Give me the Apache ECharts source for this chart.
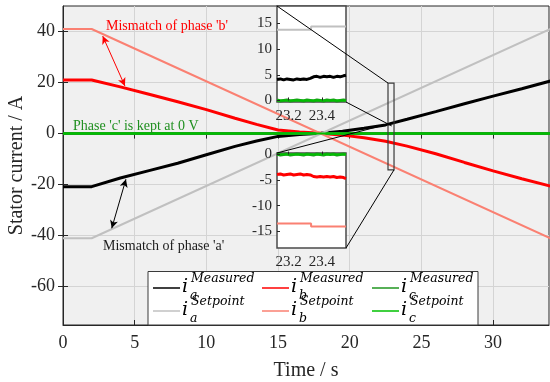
<!DOCTYPE html>
<html>
<head>
<meta charset="utf-8">
<script src="https://cdn.jsdelivr.net/npm/echarts@6/dist/echarts.min.js"></script>
<style>
html, body { margin: 0; padding: 0; background: #fff; }
#chart { width: 550px; height: 382px; }
</style>
</head>
<body>
<div id="chart"></div>
<script>
// Stator currents of the three phases: measured vs. setpoint during the ramp test
const timeS       = [0, 2, 4, 6, 8, 10, 12, 13.5, 15, 16.5, 18, 19.5, 21, 22.5, 24, 26, 28, 30, 32, 34];
const iaMeasured  = [-20.8, -20.8, -17.4, -14.5, -11.6, -8.3, -5.0, -2.9, -1.1, -0.4, 0.1, 0.9, 2.1, 3.4, 5.6, 8.6, 11.7, 14.7, 17.6, 20.6];
const ibMeasured  = [21.0, 21.0, 18.3, 15.4, 12.5, 9.4, 6.0, 3.6, 1.4, 0.6, 0.1, -0.6, -1.6, -3.0, -4.9, -7.9, -11.3, -14.6, -17.7, -20.6];
const icMeasured  = [0, 0, 0, 0, 0, 0, 0, 0, 0, 0, 0, 0, 0, 0, 0, 0, 0, 0, 0, 0];
const setpointTime = [0, 2, 34];
const iaSetpoint  = [-41, -41, 41];
const ibSetpoint  = [41, 41, -41];
const icSetpoint  = [0, 0, 0];

// Close-up window around t = 23.3 s
const zoomTime      = [23.13, 23.15, 23.17, 23.19, 23.21, 23.23, 23.25, 23.27, 23.29, 23.31, 23.33, 23.35, 23.37, 23.39, 23.41, 23.43, 23.45, 23.47, 23.49, 23.51, 23.53, 23.545];
const zoomIaMeas    = [4.1, 4.2, 4.0, 4.2, 4.1, 4.0, 4.2, 4.1, 4.2, 4.1, 4.3, 4.6, 4.7, 4.5, 4.7, 4.6, 4.7, 4.5, 4.7, 4.6, 4.8, 4.9];
const zoomIbMeas    = [-3.9, -3.8, -4.0, -3.9, -3.8, -4.0, -3.9, -3.8, -4.0, -3.9, -4.0, -4.3, -4.4, -4.3, -4.4, -4.3, -4.4, -4.3, -4.5, -4.4, -4.5, -4.7];
const zoomIcMeas    = [0.1, -0.1, 0.0, 0.1, -0.1, 0.0, 0.1, 0.0, -0.1, 0.1, 0.0, -0.1, 0.1, 0.0, -0.1, 0.1, 0.0, 0.1, -0.1, 0.0, 0.1, 0.0];
const zoomSetTime   = [23.13, 23.335, 23.335, 23.545];
const zoomIaSet     = [13.75, 13.75, 14.4, 14.4];
const zoomIbSet     = [-13.5, -13.5, -14.1, -14.1];
const zoomIcSet     = [0, 0, 0, 0];

// Tick labels
const xTicks       = [0, 5, 10, 15, 20, 25, 30];
const yTicks       = [-60, -40, -20, 0, 20, 40];
const zoomXTicks   = [23.2, 23.4];
const zoomUpTicks  = [0, 5, 10, 15];
const zoomLowTicks = [-15, -10, -5, 0];

// Annotation anchors (data coordinates of the main plot)
const arrowB    = [[2.77, 38.2], [4.32, 18.65]];
const arrowA    = [[4.39, -17.9], [3.40, -37.1]];
const zoomBoxT  = [22.67, 23.09];
const zoomBoxI  = [-14.2, 19.8];
const upperLink = [22.93, 3.0];
const lowerLink = [23.05, 4.3];

const serif = 'Liberation Serif';
const ink = '#262626';
const pairs = (xs, ys) => xs.map((x, i) => [x, ys[i]]);

const traces = [
  { key: 'a', sup: 'Measured', color: '#000000', width: 3,   x: timeS, y: iaMeasured, zx: zoomTime, zy: zoomIaMeas },
  { key: 'b', sup: 'Measured', color: '#ff0000', width: 3,   x: timeS, y: ibMeasured, zx: zoomTime, zy: zoomIbMeas },
  { key: 'c', sup: 'Measured', color: '#1f961f', width: 3,   x: timeS, y: icMeasured, zx: zoomTime, zy: zoomIcMeas },
  { key: 'a', sup: 'Setpoint', color: '#c0c0c0', width: 2,   x: setpointTime, y: iaSetpoint, zx: zoomSetTime, zy: zoomIaSet },
  { key: 'b', sup: 'Setpoint', color: '#fa8072', width: 2,   x: setpointTime, y: ibSetpoint, zx: zoomSetTime, zy: zoomIbSet },
  { key: 'c', sup: 'Setpoint', color: '#00c000', width: 2,   x: setpointTime, y: icSetpoint, zx: zoomSetTime, zy: zoomIcSet }
];

const chart = echarts.init(document.getElementById('chart'), null, { renderer: 'canvas' });

function valueAxis(o) {
  return Object.assign({
    type: 'value',
    axisLine: { show: true, onZero: false, lineStyle: { color: ink, width: 1 } },
    axisTick: { show: true, inside: true, length: 5, lineStyle: { color: ink } },
    axisLabel: { show: true, color: ink, fontFamily: serif, fontSize: 18 },
    splitLine: { show: false }
  }, o);
}

const mainGrid  = { left: 63,  top: 6,   width: 486, height: 319 };
const upperGrid = { left: 277, top: 6,   width: 69,  height: 96 };
const lowerGrid = { left: 277, top: 153, width: 69,  height: 95 };

const xAxes = [
  valueAxis({ gridIndex: 0, min: 0, max: 33.9,
    axisTick: { inside: true, length: 5, lineStyle: { color: ink }, customValues: xTicks },
    axisLabel: { color: ink, fontFamily: serif, fontSize: 18, margin: 9, customValues: xTicks },
    splitLine: { show: true, lineStyle: { color: '#d4d4d4', width: 1 } },
    name: 'Time / s', nameLocation: 'middle', nameGap: 36, nameMoveOverlap: false,
    nameTextStyle: { color: ink, fontFamily: serif, fontSize: 20 } }),
  valueAxis({ gridIndex: 0, position: 'top', min: 0, max: 33.9,
    axisLine: { show: false },
    axisTick: { inside: true, length: 5, lineStyle: { color: ink }, customValues: xTicks },
    axisLabel: { show: false } }),
  valueAxis({ gridIndex: 1, min: 23.13, max: 23.545, z: 6,
    axisLine: { show: false },
    axisTick: { inside: true, length: 3, lineStyle: { color: ink }, customValues: zoomXTicks },
    axisLabel: { color: ink, fontFamily: serif, fontSize: 15, margin: 7, customValues: zoomXTicks,
      formatter: v => v.toFixed(1) } }),
  valueAxis({ gridIndex: 2, min: 23.13, max: 23.545, z: 6,
    axisLine: { show: false },
    axisTick: { inside: true, length: 3, lineStyle: { color: ink }, customValues: zoomXTicks },
    axisLabel: { color: ink, fontFamily: serif, fontSize: 15, margin: 7, customValues: zoomXTicks,
      formatter: v => v.toFixed(1) } })
];

const yAxes = [
  valueAxis({ gridIndex: 0, min: -75, max: 50,
    axisTick: { inside: true, length: 5, lineStyle: { color: ink }, customValues: yTicks },
    axisLabel: { color: ink, fontFamily: serif, fontSize: 18, margin: 8, customValues: yTicks },
    splitLine: { show: true, lineStyle: { color: '#d4d4d4', width: 1 } },
    name: 'Stator current / A', nameLocation: 'middle', nameGap: 36, nameMoveOverlap: false,
    nameTextStyle: { color: ink, fontFamily: serif, fontSize: 20 } }),
  valueAxis({ gridIndex: 0, position: 'right', min: -75, max: 50,
    axisLine: { show: false },
    axisTick: { inside: true, length: 5, lineStyle: { color: ink }, customValues: yTicks },
    axisLabel: { show: false } }),
  valueAxis({ gridIndex: 1, min: -0.3, max: 18.4, z: 6,
    axisLine: { show: false },
    axisTick: { inside: true, length: 3, lineStyle: { color: ink }, customValues: zoomUpTicks },
    axisLabel: { color: ink, fontFamily: serif, fontSize: 15, margin: 5, customValues: zoomUpTicks } }),
  valueAxis({ gridIndex: 2, min: -18.3, max: 0.3, z: 6,
    axisLine: { show: false },
    axisTick: { inside: true, length: 3, lineStyle: { color: ink }, customValues: zoomLowTicks },
    axisLabel: { color: ink, fontFamily: serif, fontSize: 15, margin: 5, customValues: zoomLowTicks } })
];

const series = [];
traces.forEach((t, i) => {
  const main = {
    type: 'line', xAxisIndex: 0, yAxisIndex: 0, z: 2,
    data: pairs(t.x, t.y), showSymbol: false, symbol: 'none', silent: true,
    lineStyle: { color: t.color, width: t.width }
  };
  if (i === 0) {
    main.markLine = { silent: true, symbol: ['arrow', 'arrow'], symbolSize: [6, 8], animation: false,
      lineStyle: { color: '#000', width: 1, type: 'solid' }, label: { show: false },
      data: [[{ coord: arrowA[0] }, { coord: arrowA[1] }]] };
  }
  if (i === 1) {
    main.markLine = { silent: true, symbol: ['arrow', 'arrow'], symbolSize: [6, 8], animation: false,
      lineStyle: { color: '#ff0000', width: 1, type: 'solid' }, label: { show: false },
      data: [[{ coord: arrowB[0] }, { coord: arrowB[1] }]] };
  }
  series.push(main);
  [1, 2].forEach(g => series.push({
    type: 'line', xAxisIndex: g + 1, yAxisIndex: g + 1, z: 5,
    data: pairs(t.zx, t.zy), showSymbol: false, symbol: 'none', silent: true, clip: true,
    lineStyle: { color: t.color, width: t.width }
  }));
});

chart.setOption({
  animation: false,
  backgroundColor: '#ffffff',
  grid: [
    Object.assign({ show: true, backgroundColor: '#f0f0f0', borderColor: ink, borderWidth: 1, z: 0, outerBoundsMode: 'none' }, mainGrid),
    Object.assign({ show: true, backgroundColor: '#ffffff', borderColor: '#4a4a4a', borderWidth: 1.5, z: 3, outerBoundsMode: 'none' }, upperGrid),
    Object.assign({ show: true, backgroundColor: '#ffffff', borderColor: '#4a4a4a', borderWidth: 1.5, z: 3, outerBoundsMode: 'none' }, lowerGrid)
  ],
  xAxis: xAxes,
  yAxis: yAxes,
  series: series
});

// Zoom box, connector lines, annotations and the legend
const P = (g, x, y) => chart.convertToPixel({ gridIndex: g }, [x, y]);
const boxTL = P(0, zoomBoxT[0], zoomBoxI[1]);
const boxBR = P(0, zoomBoxT[1], zoomBoxI[0]);
const upTL = P(1, 23.13, 18.4), upBR = P(1, 23.545, -0.3);
const loTL = P(2, 23.13, 0.3),  loBR = P(2, 23.545, -18.3);
const upLink = P(0, upperLink[0], upperLink[1]);
const loLink = P(0, lowerLink[0], lowerLink[1]);

const link = (a, b) => ({ type: 'line', z: 10, silent: true,
  shape: { x1: a[0], y1: a[1], x2: b[0], y2: b[1] }, style: { stroke: '#000', lineWidth: 1 } });

const graphics = [
  { type: 'rect', z: 10, silent: true,
    shape: { x: boxTL[0], y: boxTL[1], width: boxBR[0] - boxTL[0], height: boxBR[1] - boxTL[1] },
    style: { fill: null, stroke: '#3a3a3a', lineWidth: 1.2 } },
  link(upTL, boxTL),
  link(upBR, upLink),
  link(loTL, loLink),
  link(loBR, boxBR),
  { type: 'text', z: 10, silent: true, style: { x: 106, y: 26, text: "Mismatch of phase 'b'", fill: '#ff0000',
      font: '14px "Liberation Serif"', verticalAlign: 'middle', align: 'left' } },
  { type: 'text', z: 10, silent: true, style: { x: 73, y: 126, text: "Phase 'c' is kept at 0 V", fill: '#1f8f1f',
      font: '14px "Liberation Serif"', verticalAlign: 'middle', align: 'left' } },
  { type: 'text', z: 10, silent: true, style: { x: 103, y: 246, text: "Mismatch of phase 'a'", fill: '#1a1a1a',
      font: '14px "Liberation Serif"', verticalAlign: 'middle', align: 'left' } }
];

// Legend box
const legendBox = { x: 148, y: 271.5, w: 330, h: 53.5 };
graphics.push({ type: 'rect', z: 11, silent: true,
  shape: { x: legendBox.x, y: legendBox.y, width: legendBox.w, height: legendBox.h },
  style: { fill: '#ffffff', stroke: '#3a3a3a', lineWidth: 1 } });
const colX = [153, 262, 372];
const rowY = [288, 311];
traces.forEach((t, i) => {
  const cx = colX[i % 3], cy = rowY[Math.floor(i / 3)];
  graphics.push({ type: 'line', z: 12, silent: true,
    shape: { x1: cx, y1: cy, x2: cx + 27, y2: cy }, style: { stroke: t.color, lineWidth: 1.5 } });
  const ix = cx + 29;
  graphics.push({ type: 'text', z: 12, silent: true,
    style: { x: ix, y: cy - 1, text: 'i', fill: '#000', font: 'italic 19px "DejaVu Serif"', verticalAlign: 'middle', align: 'left' } });
  graphics.push({ type: 'text', z: 12, silent: true,
    style: { x: ix + 9, y: cy - 9, text: t.sup, fill: '#000', font: 'italic 12.5px "DejaVu Serif"', verticalAlign: 'middle', align: 'left' } });
  graphics.push({ type: 'text', z: 12, silent: true,
    style: { x: ix + 8, y: cy + 8, text: t.key, fill: '#000', font: 'italic 12.5px "DejaVu Serif"', verticalAlign: 'middle', align: 'left' } });
});

chart.setOption({ graphic: graphics });
</script>
</body>
</html>
